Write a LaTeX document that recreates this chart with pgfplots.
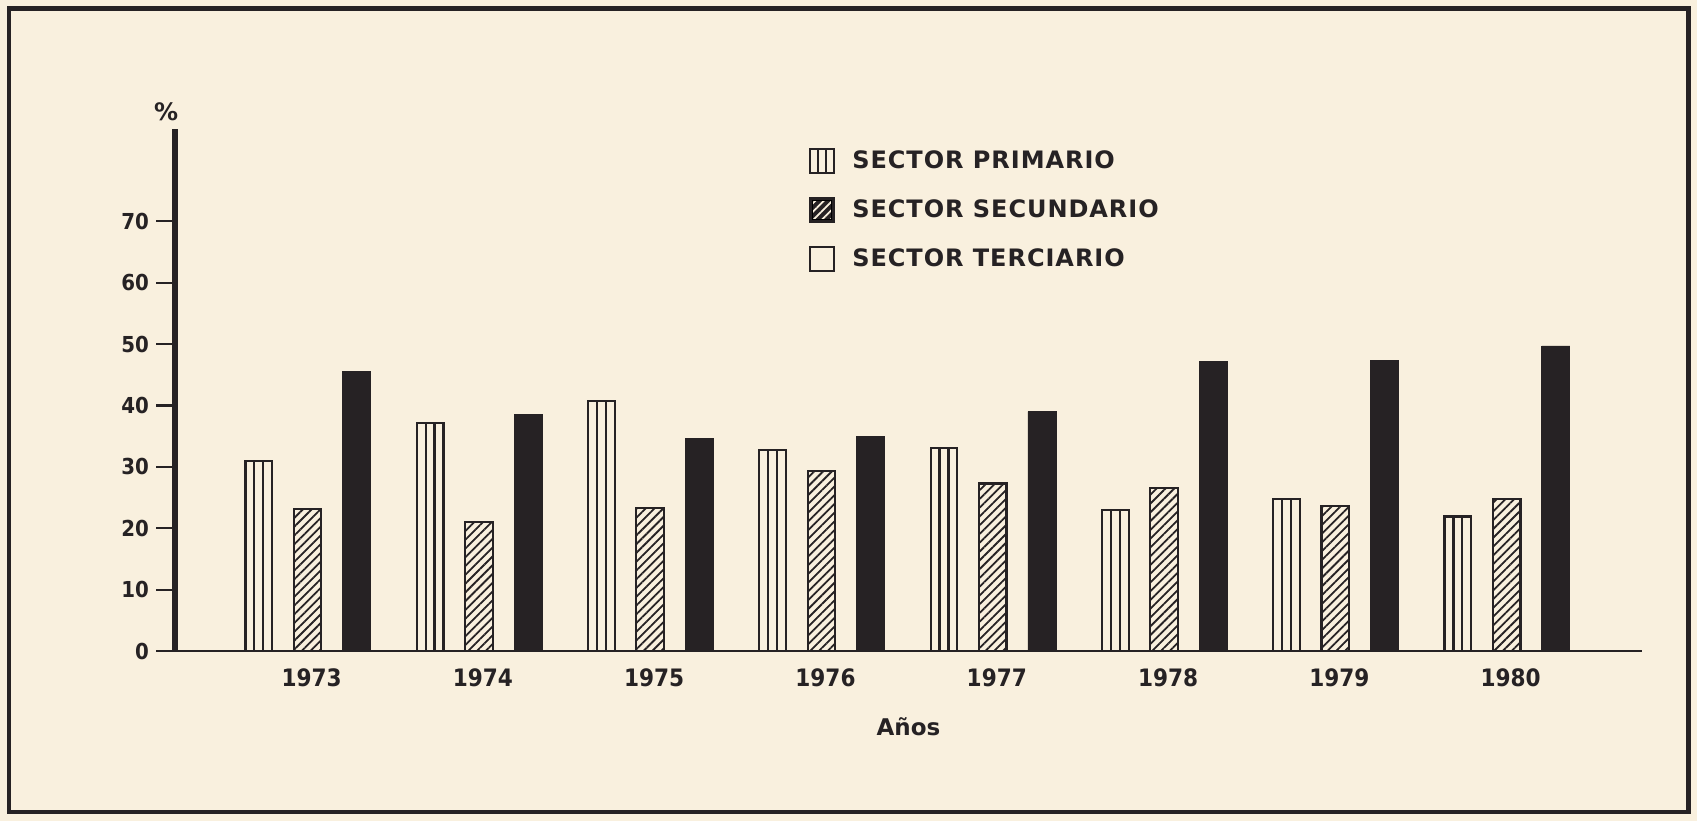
\documentclass[border=0pt]{standalone}
\usepackage{pgfplots}
\pgfplotsset{compat=1.18}
\usetikzlibrary{patterns.meta}
\usepackage{fontspec}
\setmainfont{DejaVu Sans}
\newfontfamily\numfont{DejaVu Sans Condensed}
\newfontfamily\legfont{DejaVu Sans}[LetterSpace=4]
\definecolor{bg}{RGB}{249,240,222}
\definecolor{ink}{RGB}{38,34,36}

\pgfplotstableread{
x prim sec ter
0 31.0 23.1 45.5
1 37.2 21.0 38.5
2 40.7 23.3 34.6
3 32.7 29.3 35.0
4 33.1 27.3 39.0
5 23.0 26.6 47.2
6 24.7 23.6 47.4
7 21.9 24.8 49.7
}\datatable

\begin{document}
\begin{tikzpicture}
\fill[bg] (0,0) rectangle (848.5pt,410.5pt);
\draw[ink, line width=2.2pt] (4.4pt,4.5pt) rectangle (844.3pt,406.2pt);
\begin{axis}[
  at={(87.5pt,85pt)}, anchor=south west,
  scale only axis, width=733.5pt, height=260.9pt,
  xmin=-0.774, xmax=7.79, ymin=0, ymax=85,
  axis lines*=left,
  x axis line style={ink, line width=1.4pt},
  y axis line style={ink, line width=3.3pt},
  ytick={0,10,...,70},
  ytick style={ink, line width=1.1pt},
  tick align=outside, major tick length=9.5pt,
  xtick={0,...,7},
  xticklabels={1973,1974,1975,1976,1977,1978,1979,1980},
  xtick style={draw=none},
  /pgf/number format/assume math mode=true,
  yticklabel style={font=\numfont\bfseries\fontsize{11}{13}\selectfont, text=ink},
  xticklabel style={font=\numfont\bfseries\fontsize{12}{14}\selectfont, text=ink,
    anchor=center, yshift=-4.1pt, xshift=2pt},
  xlabel={Años},
  xlabel style={at={(axis description cs:0.5,0)}, anchor=center, yshift=-38pt,
    font=\bfseries\fontsize{11.5}{13}\selectfont, text=ink},
  clip=false,
  legend style={at={(0.432,0.967)}, anchor=north west, draw=none, fill=none,
    font=\legfont\bfseries\fontsize{12}{14}\selectfont, text=ink, row sep=10pt,
    inner sep=0pt},
  legend cell align=left,
]
\addlegendimage{legend image code/.code={
  \path[draw=none, fill=none] (0pt,0pt) rectangle (19pt,0.1pt);
  \draw[ink, line width=1.1pt, fill=bg] (0pt,-6pt) rectangle (12pt,6pt);
  \draw[ink, line width=1.1pt] (4pt,-6pt) -- (4pt,6pt) (8pt,-6pt) -- (8pt,6pt);
}}
\addlegendentry{SECTOR PRIMARIO}
\addlegendimage{legend image code/.code={
  \path[draw=none, fill=none] (0pt,0pt) rectangle (19pt,0.1pt);
  \fill[ink] (0pt,-6pt) rectangle (12pt,6pt);
  \fill[pattern={Lines[angle=45, distance=3pt, line width=0.9pt]}, pattern color=bg] (1.2pt,-4.8pt) rectangle (10.8pt,4.8pt);
  \draw[ink, line width=1.1pt] (0pt,-6pt) rectangle (12pt,6pt);
}}
\addlegendentry{SECTOR SECUNDARIO}
\addlegendimage{legend image code/.code={
  \path[draw=none, fill=none] (0pt,0pt) rectangle (19pt,0.1pt);
  \draw[ink, line width=1pt, fill=bg] (0pt,-6pt) rectangle (12pt,6pt);
}}
\addlegendentry{SECTOR TERCIARIO}

% Sector primario (three narrow striped cells per bar)
\addplot[ybar, bar width=4.45pt, bar shift=-28.85pt, draw=ink, line width=1.1pt, fill=bg, forget plot] table[x=x, y=prim] {\datatable};
\addplot[ybar, bar width=4.45pt, bar shift=-19.95pt, draw=ink, line width=1.1pt, fill=bg, forget plot] table[x=x, y=prim] {\datatable};
\addplot[ybar, bar width=4.45pt, bar shift=-24.4pt, draw=ink, line width=1.1pt, fill=bg, forget plot] table[x=x, y=prim] {\datatable};
% Sector secundario (hatched)
\addplot[ybar, bar width=13.8pt, bar shift=0pt, draw=ink, line width=1.1pt,
  pattern={Lines[angle=45, distance=3.1pt, line width=0.9pt]}, pattern color=ink, forget plot] table[x=x, y=sec] {\datatable};
% Sector terciario (solid)
\addplot[ybar, bar width=14pt, bar shift=24.6pt, draw=ink, fill=ink, forget plot] table[x=x, y=ter] {\datatable};

\node[font=\bfseries\fontsize{12}{14}\selectfont, text=ink] at (axis description cs:-0.006,1.034) {\%};
\end{axis}
\end{tikzpicture}
\end{document}
